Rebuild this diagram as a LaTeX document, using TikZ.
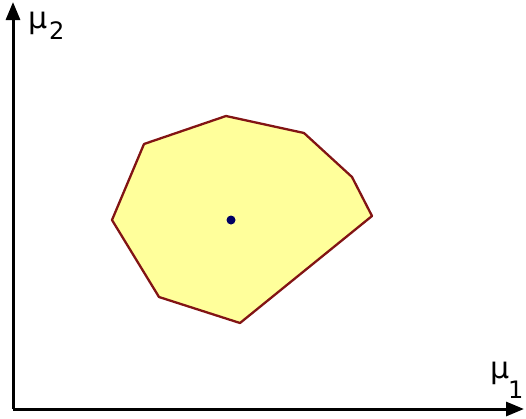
\documentclass[tikz,border=0pt]{standalone}
\usepackage{fontspec}
\setmainfont{DejaVu Sans}
\usetikzlibrary{arrows.meta}
\definecolor{edgered}{RGB}{130,20,20}
\definecolor{fillyel}{RGB}{255,255,155}
\definecolor{dotblue}{RGB}{0,0,100}
\begin{document}
\begin{tikzpicture}[x=1pt,y=-1pt,
  axis/.style={line width=3pt,-{Triangle[length=18pt,width=14pt]}},
  region/.style={draw=edgered,fill=fillyel,line width=2.3pt,line join=round},
  greek/.style={inner sep=0pt,anchor=base west,font=\fontsize{30}{34}\selectfont},
  digit/.style={inner sep=0pt,anchor=base west,font=\fontsize{24}{28}\selectfont}]
\useasboundingbox (0,0) rectangle (526,418);
\coordinate (O) at (13,409);
\coordinate (Y) at (13,2);
\coordinate (X) at (524,409);
\draw[axis] (O) -- (Y);
\draw[axis] (O) -- (X);
\draw[region] (112,220) -- (144,144) -- (226,116) -- (304,133) -- (352,177) -- (372,216) -- (240,323) -- (159,297) -- cycle;
\fill[dotblue] (231,220) circle (4.5pt);
\node[greek] (m2) at (28,28) {μ};
\node[digit] (s2) at (49,39) {2};
\node[greek] (m1) at (490,378) {μ};
\node[digit] (s1) at (508,398) {1};
\end{tikzpicture}
\end{document}
